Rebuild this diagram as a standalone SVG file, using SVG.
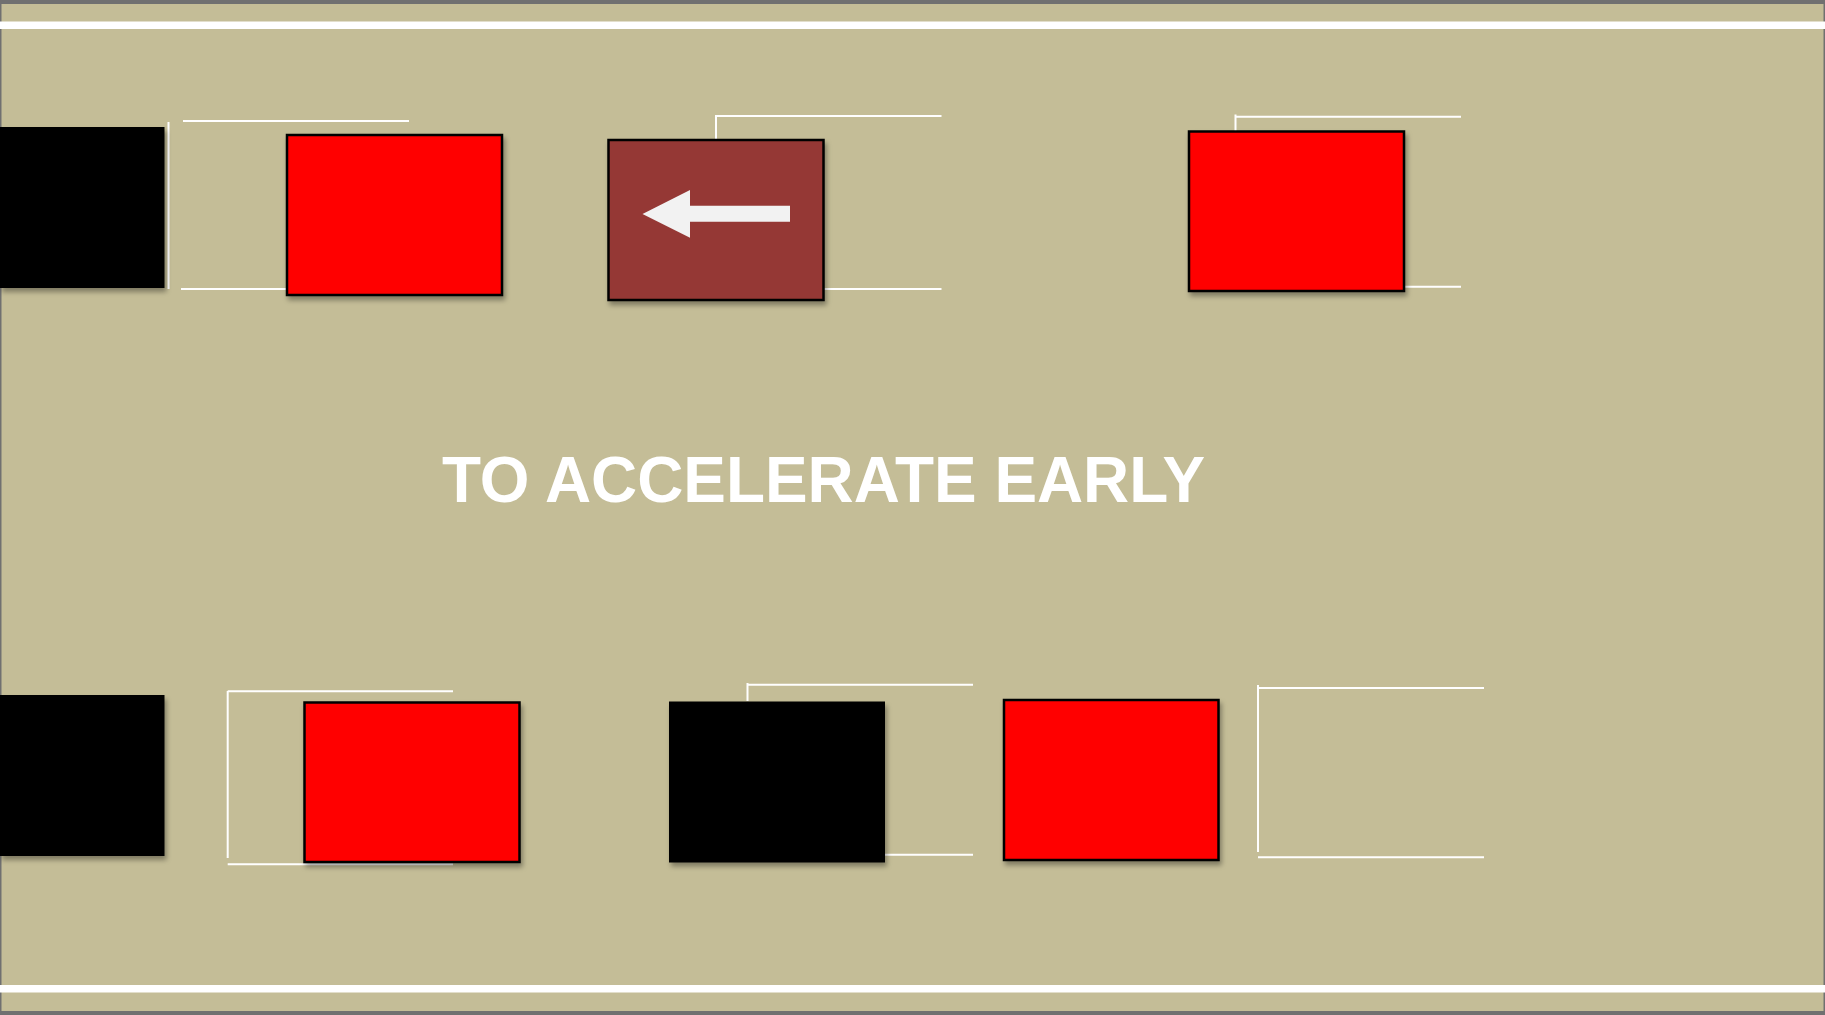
<svg xmlns="http://www.w3.org/2000/svg" width="1825" height="1015" viewBox="0 0 1825 1015">
<style>
.lane{fill:#ffffff}
.br{stroke:#ffffff;stroke-width:2;fill:none}
.red{fill:#ff0000;stroke:#000000;stroke-width:2.5}
.blk{fill:#000000}
.mar{fill:#953735;stroke:#000000;stroke-width:2.5}
.title{font-family:"Liberation Sans",Arial,sans-serif;font-weight:bold;font-size:64px;fill:#ffffff}
</style>
<defs>
<filter id="sh" x="-10%" y="-10%" width="130%" height="130%">
<feDropShadow dx="2" dy="4" stdDeviation="2.5" flood-color="#000000" flood-opacity="0.35"/>
</filter>
</defs>
<rect x="0" y="0" width="1825" height="1015" fill="#707070"/>
<rect x="1.5" y="4" width="1822" height="1007" fill="#C4BD97"/>
<rect class="lane" x="0" y="21.5" width="1825" height="7.5"/>
<rect class="lane" x="0" y="985" width="1825" height="7.5"/>
<g id="connectors">
<path class="br" d="M168.5,122 V289 M183,121 H409 M181,289 H409"/>
<path class="br" d="M716,139 V116 H941.5 M823,289 H941.5"/>
<path class="br" d="M1235.5,131 V114.5 M1235.5,116.7 H1461 M1403,286.7 H1461"/>
<path class="br" d="M227.7,691 V858 M227.7,691.3 H453 M227.7,864.3 H453"/>
<path class="br" d="M747.5,701 V683 M747.5,684.7 H973 M885,854.7 H973"/>
<path class="br" d="M1258,685 V852 M1258,688 H1484 M1258,857.3 H1484"/>
</g>
<g id="node-black-1"><rect class="blk" x="0" y="127" width="164.5" height="161" filter="url(#sh)"/></g>
<g id="node-red-1"><rect class="red" x="287" y="135" width="215" height="160" filter="url(#sh)"/></g>
<g id="node-maroon"><rect class="mar" x="608.5" y="140" width="215" height="160" filter="url(#sh)"/>
<polygon points="642.5,214 690,190 690,205.7 790,205.7 790,221.7 690,221.7 690,237.7" fill="#F2F2F2"/></g>
<g id="node-red-2"><rect class="red" x="1189" y="131.5" width="215" height="159.5" filter="url(#sh)"/></g>
<g id="node-black-2"><rect class="blk" x="0" y="695" width="164.5" height="161" filter="url(#sh)"/></g>
<g id="node-red-3"><rect class="red" x="304.5" y="702.5" width="215" height="159.5" filter="url(#sh)"/></g>
<g id="node-black-3"><rect class="blk" x="669" y="701.5" width="216" height="161" filter="url(#sh)"/></g>
<g id="node-red-4"><rect class="red" x="1004" y="700" width="214.5" height="160" filter="url(#sh)"/></g>
<text class="title" x="442" y="502" textLength="763" lengthAdjust="spacingAndGlyphs">TO ACCELERATE EARLY</text>
</svg>
